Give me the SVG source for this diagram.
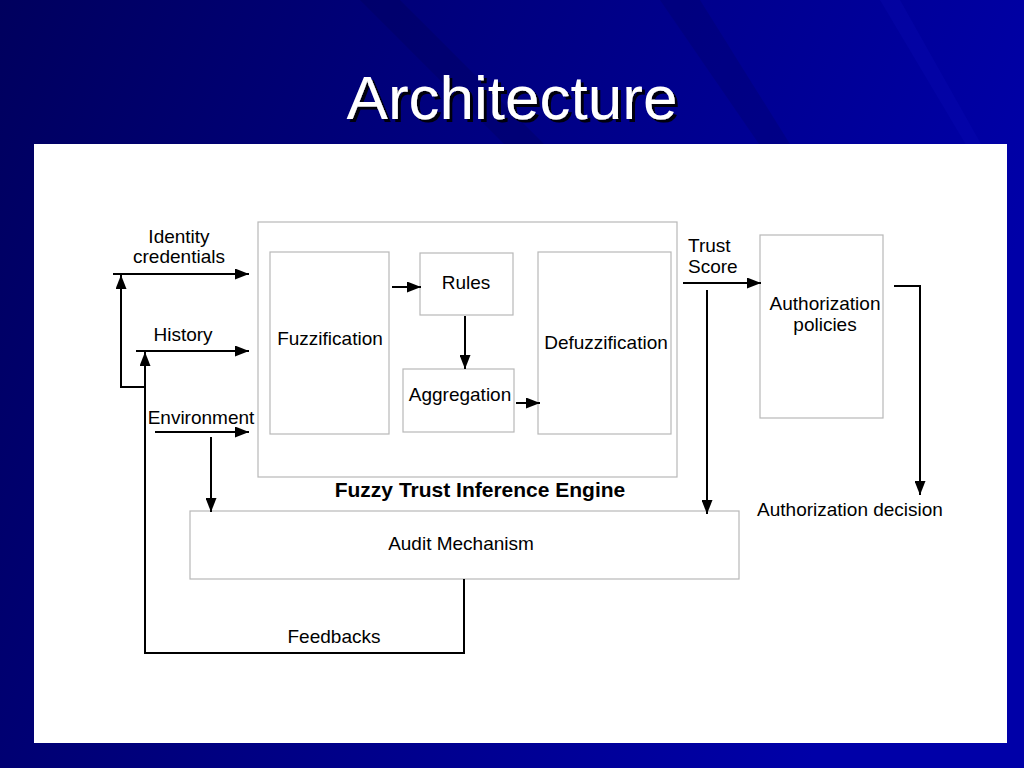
<svg xmlns="http://www.w3.org/2000/svg" width="1024" height="768" viewBox="0 0 1024 768">
<defs>
<linearGradient id="bg" x1="0" y1="0" x2="1" y2="0.3">
<stop offset="0" stop-color="#00005e"/>
<stop offset="0.45" stop-color="#000080"/>
<stop offset="1" stop-color="#0000a8"/>
</linearGradient>
<marker id="ah" markerUnits="userSpaceOnUse" markerWidth="15" markerHeight="11" refX="14" refY="5.5" orient="auto">
<path d="M0,0 L14,5.5 L0,11 z" fill="#000"/>
</marker>
<filter id="sh" x="-5%" y="-5%" width="115%" height="120%">
<feDropShadow dx="3" dy="3" stdDeviation="0.6" flood-color="#000" flood-opacity="0.9"/>
</filter>
</defs>
<style>
.box{fill:#fff;stroke:#b8b8b8;stroke-width:1.2}
.t{font-family:"Liberation Sans",Arial,sans-serif;font-size:19px;fill:#000;text-anchor:middle}
.s{font-family:"Liberation Sans",Arial,sans-serif;font-size:19px;fill:#000;text-anchor:start}
.c{fill:none;stroke:#000;stroke-width:2}
.a{fill:none;stroke:#000;stroke-width:2;marker-end:url(#ah)}
</style>
<rect width="1024" height="768" fill="url(#bg)"/>
<g opacity="0.2">
<polygon points="360,0 400,0 560,160 520,160" fill="#000040"/>
<polygon points="660,0 700,0 800,160 770,160" fill="#000050"/>
<polygon points="880,0 900,0 990,160 975,160" fill="#1010c0"/>
</g>
<text x="512" y="119" font-family="'Liberation Sans Narrow','Liberation Sans',Arial,sans-serif" font-size="62" fill="#fff" text-anchor="middle" filter="url(#sh)">Architecture</text>
<rect x="34" y="144" width="973" height="599" fill="#fff"/>

<g id="engine">
<rect class="box" x="258" y="222" width="419" height="255"/>
<text x="480" y="497" font-family="'Liberation Sans',Arial,sans-serif" font-size="21" font-weight="bold" text-anchor="middle">Fuzzy Trust Inference Engine</text>
</g>
<g id="fuzzification">
<rect class="box" x="270" y="252" width="119" height="182"/>
<text class="t" x="330" y="345">Fuzzification</text>
</g>
<g id="rules">
<rect class="box" x="420" y="253" width="93" height="62"/>
<text class="t" x="466" y="289">Rules</text>
</g>
<g id="aggregation">
<rect class="box" x="403" y="369" width="111" height="63"/>
<text class="t" x="460" y="401">Aggregation</text>
</g>
<g id="defuzzification">
<rect class="box" x="538" y="252" width="133" height="182"/>
<text class="t" x="606" y="349">Defuzzification</text>
</g>
<g id="authpolicies">
<rect class="box" x="760" y="235" width="123" height="183"/>
<text class="t" x="825" y="310">Authorization</text>
<text class="t" x="825" y="331">policies</text>
</g>
<g id="audit">
<rect class="box" x="190" y="511" width="549" height="68"/>
<text class="t" x="461" y="550">Audit Mechanism</text>
</g>

<g id="labels">
<text class="t" x="179" y="243">Identity</text>
<text class="t" x="179" y="263">credentials</text>
<text class="t" x="183" y="341">History</text>
<text class="t" x="201" y="424">Environment</text>
<text class="s" x="688" y="252">Trust</text>
<text class="s" x="688" y="273">Score</text>
<text class="t" x="850" y="516">Authorization decision</text>
<text class="t" x="334" y="643">Feedbacks</text>
</g>

<g id="connectors">
<line class="a" x1="113" y1="274" x2="249" y2="274"/>
<line class="a" x1="136" y1="351" x2="249" y2="351"/>
<line class="a" x1="155" y1="432" x2="249" y2="432"/>
<line class="a" x1="211" y1="437" x2="211" y2="512"/>
<polyline class="c" points="464,579 464,653 145,653 145,363"/>
<line class="a" x1="145" y1="400" x2="145" y2="352"/>
<polyline class="a" points="145,387 121,387 121,275"/>
<line class="a" x1="392" y1="287" x2="421" y2="287"/>
<line class="a" x1="465" y1="316" x2="465" y2="369"/>
<line class="a" x1="516" y1="403" x2="540" y2="403"/>
<line class="a" x1="683" y1="283" x2="761" y2="283"/>
<line class="a" x1="707" y1="290" x2="707" y2="514"/>
<polyline class="a" points="894,286 920,286 920,495"/>
</g>
</svg>
